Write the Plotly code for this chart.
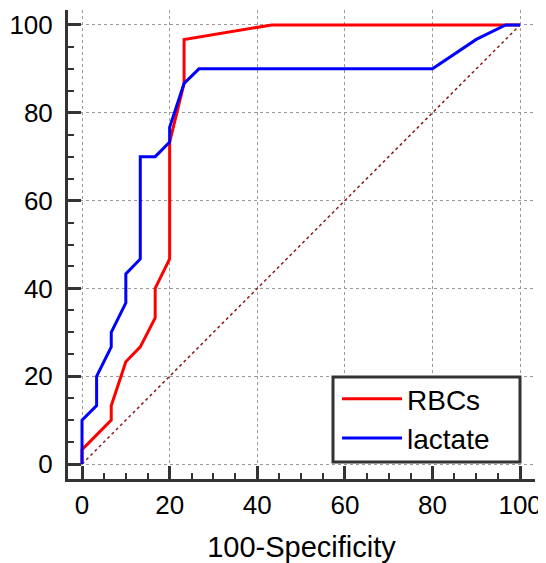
import plotly.graph_objects as go

# 100-Specificity (x) and Sensitivity (y) for each ROC curve
rbc_x = [0, 0, 6.67, 6.67, 10, 13.3, 16.7, 16.7, 20, 20, 23.3, 23.3, 43.3, 100]
rbc_y = [0, 3.3, 10, 13.3, 23.3, 26.7, 33.3, 40, 46.7, 73.3, 86.7, 96.7, 100, 100]

lac_x = [0, 0, 3.33, 3.33, 6.67, 6.67, 10, 10, 13.3, 13.3, 16.7, 20, 20, 23.3, 26.7, 80, 90, 96.7, 100]
lac_y = [0, 10, 13.3, 20, 26.7, 30, 36.7, 43.3, 46.7, 70, 70, 73.3, 76.7, 86.7, 90, 90, 96.7, 100, 100]

ref_x = [0, 100]
ref_y = [0, 100]

tick_vals = [0, 20, 40, 60, 80, 100]
tick_text = ["0", "20", "40", "60", "80", "100"]

FONT = "Liberation Sans, Arial, sans-serif"

# page offset of the figure (default body margin)
OFF = 8
W, H = 546 - OFF, 563 - OFF
# plot-area in page pixels: x 68..535, y 10..479
ML, MR, MT, MB = 68 - OFF, 11, 10 - OFF, 84
PW, PH = W - ML - MR, H - MT - MB


def px_x(p):
    return (p - OFF - ML) / PW


def px_y(p):
    return (H - MB - (p - OFF)) / PH


fig = go.Figure()
fig.add_trace(go.Scatter(x=ref_x, y=ref_y, mode="lines", showlegend=False,
                         line=dict(color="#8B1A1A", width=1.5, dash="dot")))
fig.add_trace(go.Scatter(x=rbc_x, y=rbc_y, mode="lines", name="RBCs",
                         line=dict(color="#FF0000", width=3)))
fig.add_trace(go.Scatter(x=lac_x, y=lac_y, mode="lines", name="lactate",
                         line=dict(color="#0000FF", width=3)))

axis_common = dict(
    showline=True, linecolor="#333333", linewidth=3,
    ticks="inside", ticklen=13, tickwidth=3, tickcolor="#333333",
    tickvals=tick_vals, ticktext=tick_text,
    showgrid=True, gridcolor="#9a9a9a", gridwidth=1, griddash="dot",
    zeroline=False, mirror=False, automargin=False,
    tickfont=dict(family=FONT, size=26, color="#000000"),
    minor=dict(dtick=5, tick0=0, ticks="inside", ticklen=6, tickwidth=2,
               tickcolor="#333333", showgrid=False),
)

# legend frame
fig.add_shape(type="rect", xref="paper", yref="paper",
              x0=px_x(333), x1=px_x(520), y0=px_y(462), y1=px_y(377),
              line=dict(color="#333333", width=3), fillcolor="white", layer="above")

fig.update_layout(
    width=W, height=H,
    margin=dict(l=ML, r=MR, t=MT, b=MB),
    paper_bgcolor="white", plot_bgcolor="white",
    font=dict(family=FONT, size=28, color="#000000"),
    xaxis=dict(range=[-3.2, 103.4], title=dict(text="100-Specificity", standoff=28,
               font=dict(family=FONT, size=29)), ticklabelstandoff=1, **axis_common),
    yaxis=dict(range=[-3.4, 103.4], ticklabelstandoff=7, **axis_common),
    legend=dict(x=px_x(337), y=px_y(374), xanchor="left", yanchor="top",
                bgcolor="rgba(0,0,0,0)", borderwidth=0,
                font=dict(family=FONT, size=28), itemwidth=60,
                tracegroupgap=0),
)

fig.write_html("out.html")
